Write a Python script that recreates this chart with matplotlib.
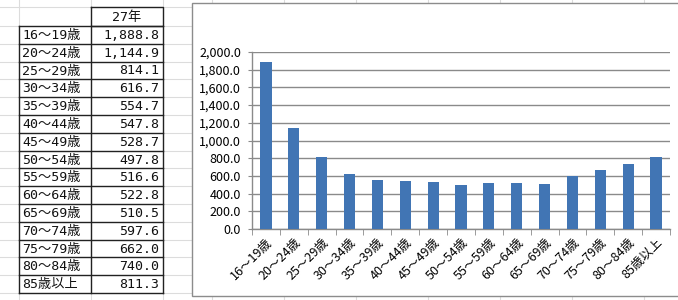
import matplotlib
matplotlib.use("Agg")
import matplotlib.pyplot as plt
from matplotlib.patches import Rectangle

categories = ["16～19歳", "20～24歳", "25～29歳", "30～34歳", "35～39歳",
              "40～44歳", "45～49歳", "50～54歳", "55～59歳", "60～64歳",
              "65～69歳", "70～74歳", "75～79歳", "80～84歳", "85歳以上"]
values = [1888.8, 1144.9, 814.1, 616.7, 554.7, 547.8, 528.7, 497.8,
          516.6, 522.8, 510.5, 597.6, 662.0, 740.0, 811.3]
header = "27年"
yticks = [0, 200, 400, 600, 800, 1000, 1200, 1400, 1600, 1800, 2000]

W, H = 678, 300
fig = plt.figure(figsize=(W / 100, H / 100), dpi=100)
fig.patch.set_facecolor("white")

# overlay in pixel coordinates (spreadsheet background)
ov = fig.add_axes([0, 0, 1, 1], zorder=0)
ov.set_xlim(0, W)
ov.set_ylim(H, 0)
ov.axis("off")

grid_c = "#dcdcdc"
row_top = 7
y_data0 = 26
row_h = 17.8
n = len(categories)
y_end = y_data0 + row_h * n
ov.plot([0, W], [row_top, row_top], color=grid_c, lw=0.8, zorder=0)
for k in range(0, n + 2):
    y = y_data0 + row_h * k
    ov.plot([0, W], [y, y], color=grid_c, lw=0.8, zorder=0)
for x in [19, 91, 163, 212, 284, 356, 428, 500, 572, 644]:
    ov.plot([x, x], [0, H], color=grid_c, lw=0.8, zorder=0)

# table borders
bc = "#222222"
x0, x1, x2 = 19, 91, 163
ov.plot([x1, x2, x2, x1, x1], [row_top, row_top, y_data0, y_data0, row_top], color=bc, lw=1.0, zorder=2)
for k in range(n + 1):
    y = y_data0 + row_h * k
    ov.plot([x0, x2], [y, y], color=bc, lw=1.0, zorder=2)
for x in [x0, x1, x2]:
    ov.plot([x, x], [y_data0, y_end], color=bc, lw=1.0, zorder=2)

fam = ["DejaVu Sans Mono", "Noto Sans CJK JP"]
ov.text((x1 + x2) / 2, (row_top + y_data0) / 2 + 0.5, header, ha="center", va="center",
        fontsize=9.5, family=fam, color="#111111", zorder=3)
for i, (c, v) in enumerate(zip(categories, values)):
    yc = y_data0 + row_h * i + row_h / 2 + 0.5
    ov.text(x0 + 3, yc, c, ha="left", va="center", fontsize=9.5, family=fam,
            color="#111111", zorder=3)
    ov.text(x2 - 4, yc, f"{v:,.1f}", ha="right", va="center", fontsize=9.5,
            family=fam, color="#111111", zorder=3)

# chart frame
ov.add_patch(Rectangle((192, 3), 600, 293, facecolor="white", edgecolor="#8c8c8c",
                       lw=1.0, zorder=4))

# chart axes
ax = fig.add_axes([252 / W, (H - 229) / H, (670 - 252) / W, (229 - 52) / H], zorder=5)
ax.set_facecolor("none")
pos = list(range(n))
ax.bar(pos, values, width=0.4, color="#4175B4", zorder=3)
ax.set_xlim(-0.5, n - 0.5)
ax.set_ylim(0, 2000)
ax.set_yticks(yticks)
ax.set_yticklabels([f"{t:,.1f}" for t in yticks], fontsize=9,
                   family=["Noto Sans CJK JP", "DejaVu Sans"])
ax.yaxis.grid(True, color="#8a8a8a", lw=1.0)
ax.set_axisbelow(True)
ax.set_xticks(pos)
ax.set_xticklabels(categories, rotation=45, ha="right", va="top",
                   rotation_mode="anchor", fontsize=9,
                   family=["Noto Sans CJK JP", "DejaVu Sans"])
ax.set_xticks([p - 0.5 for p in pos] + [n - 0.5], minor=True)
ax.tick_params(axis="x", which="major", length=0, pad=5)
ax.tick_params(axis="x", which="minor", length=4, color="#8a8a8a", direction="out")
ax.tick_params(axis="y", length=3, color="#8a8a8a", direction="out", pad=5)
for s in ["top", "right"]:
    ax.spines[s].set_visible(False)
for s in ["left", "bottom"]:
    ax.spines[s].set_color("#8a8a8a")
    ax.spines[s].set_linewidth(1.0)

fig.savefig("out.png", dpi=100, facecolor="white")
